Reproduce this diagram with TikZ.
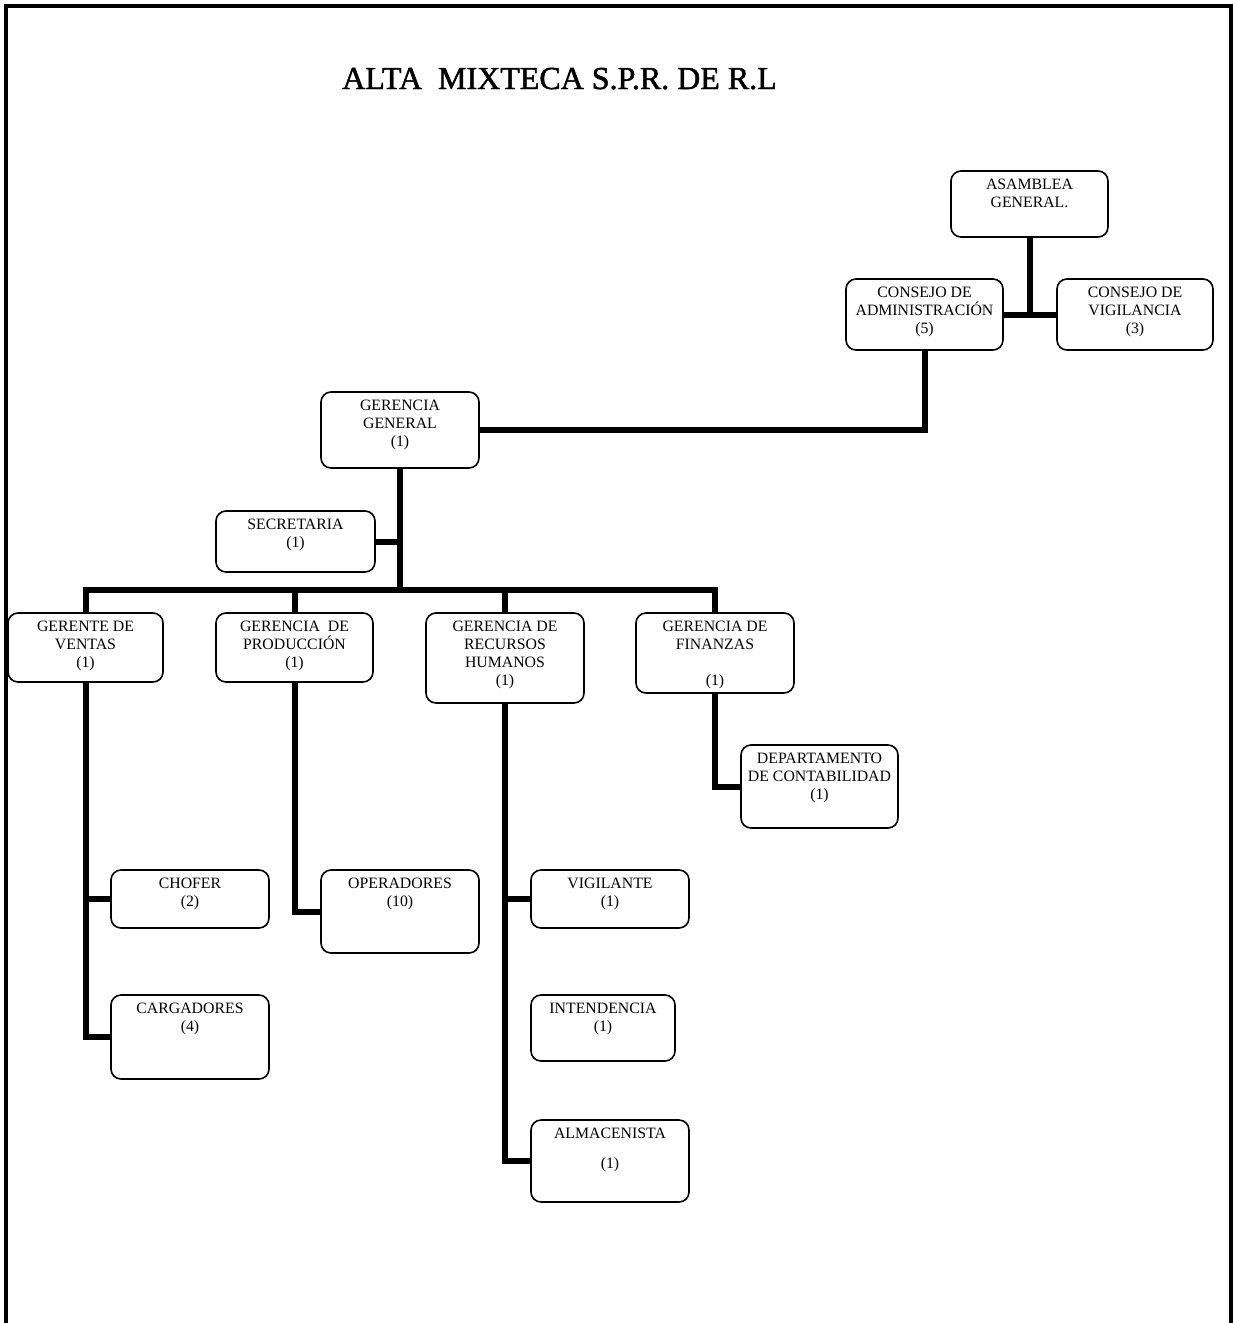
\documentclass[tikz,border=0pt]{standalone}
\usepackage{fontspec}
\setmainfont{Liberation Serif}
\usetikzlibrary{backgrounds}
\begin{document}
\begin{tikzpicture}[x=1pt,y=-1pt,
  box/.style={draw, line width=1.6pt, rounded corners=10pt, fill=white, inner sep=0pt},
  txt/.style={anchor=north, inner sep=0pt, align=center, font=\fontsize{15.8}{18}\selectfont},
  conn/.style={line width=6pt, line join=miter, line cap=rect},
  frame/.style={line width=4pt}
]
\useasboundingbox (0,0) rectangle (1233,1323);
\draw[frame] (6,1330) -- (6,5.5) -- (1230.5,5.5) -- (1230.5,1330);

\node[inner sep=0pt, anchor=base, font=\fontsize{32}{36}\selectfont\addfontfeature{FakeBold=1.5}] (title) at (559.5,89) {ALTA\ \ MIXTECA S.P.R. DE R.L};

% boxes: name, center, width, height
\newcommand{\orgbox}[5]{%
  \node[box, minimum width=#3pt, minimum height=#4pt] (#1) at (#2) {};
  \node[txt] (#1t) at ([yshift=-9pt]#1.north) {#5};
}
\orgbox{asam}{1029.5,204}{157}{66}{ASAMBLEA\\GENERAL.}
\orgbox{cadm}{924.5,314.5}{157}{71}{CONSEJO DE\\ADMINISTRACIÓN\\(5)}
\orgbox{cvig}{1135,314.5}{156}{71}{CONSEJO DE\\VIGILANCIA\\(3)}
\orgbox{gg}{400,430}{158}{76}{GERENCIA\\GENERAL\\(1)}
\orgbox{sec}{295.5,541.5}{159}{61}{SECRETARIA\\(1)}
\orgbox{ven}{85.5,647.5}{155}{69}{GERENTE DE\\VENTAS\\(1)}
\orgbox{prod}{294.5,647.5}{157}{69}{GERENCIA\ \ DE\\PRODUCCIÓN\\(1)}
\orgbox{rh}{505,658}{158}{90}{GERENCIA DE\\RECURSOS\\HUMANOS\\(1)}
\orgbox{fin}{715,653}{158}{80}{GERENCIA DE\\FINANZAS\\[18pt](1)}
\orgbox{dept}{819.5,786.5}{157}{83}{DEPARTAMENTO\\DE CONTABILIDAD\\(1)}
\orgbox{chof}{190,899}{158}{58}{CHOFER\\(2)}
\orgbox{carg}{190,1037}{158}{84}{CARGADORES\\(4)}
\orgbox{oper}{400,911.5}{158}{83}{OPERADORES\\(10)}
\orgbox{vig}{610,899}{158}{58}{VIGILANTE\\(1)}
\orgbox{inte}{603,1028}{144}{66}{INTENDENCIA\\(1)}
\orgbox{alm}{610,1161}{158}{82}{ALMACENISTA\\[12pt](1)}

\coordinate (bar) at (400,590);

\begin{scope}[on background layer]
\draw[conn] (asam.south) -- (asam.south |- cadm.east);
\draw[conn] (cadm.east) -- (cvig.west);
\draw[conn] (cadm.south) |- (gg.east);
\draw[conn] (gg.south) -- (bar);
\draw[conn] (sec.east) -- (gg.south |- sec.east);
\draw[conn] (ven.north) -- (ven.north |- bar) -- (fin.north |- bar) -- (fin.north);
\draw[conn] (prod.north) -- (prod.north |- bar);
\draw[conn] (rh.north) -- (rh.north |- bar);
\draw[conn] (ven.south) |- (carg.west);
\draw[conn] (chof.west) -- (ven.south |- chof.west);
\draw[conn] (prod.south) |- (oper.west);
\draw[conn] (rh.south) |- (alm.west);
\draw[conn] (vig.west) -- (rh.south |- vig.west);
\draw[conn] (fin.south) |- (dept.west);
\end{scope}
\end{tikzpicture}
\end{document}
